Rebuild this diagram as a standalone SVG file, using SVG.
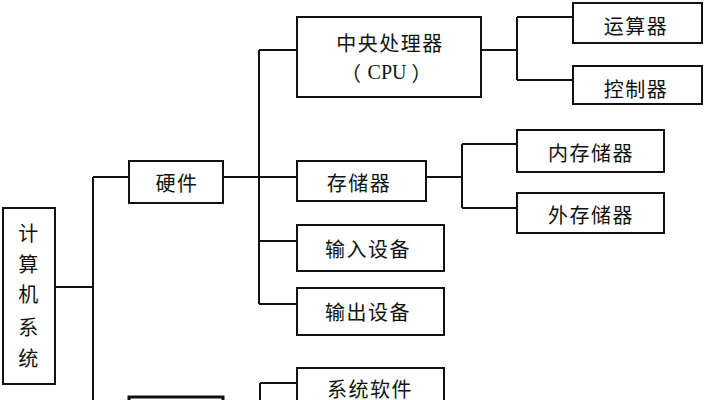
<svg xmlns="http://www.w3.org/2000/svg" width="716" height="400" viewBox="0 0 716 400">
<style>
.box{fill:#fff;stroke:#111;stroke-width:2}
.t{font-family:"Noto Sans CJK SC","Noto Sans",sans-serif;font-size:20px;fill:#111;text-anchor:middle;dominant-baseline:central;letter-spacing:1.5px}
.e{font-family:"Liberation Serif",serif;letter-spacing:0}
#connectors path{fill:none;stroke:#111;stroke-width:2}
</style>
<rect width="716" height="400" fill="#fff"/>
<g id="connectors">
<path d="M55,287H93M93,177V400M93,177H129"/>
<path d="M223,177H259M259,50V304M259,50H297M259,177H297M259,241H297M259,304H297"/>
<path d="M260,383V400M260,383H297"/>
<path d="M481,50H517M517,17V80M517,17H573M517,80H573"/>
<path d="M426,177H462M462,144V208M462,144H517M462,208H517"/>
</g>
<g id="n-system">
<rect class="box" x="3" y="208" width="52" height="176"/>
<text class="t" x="29" y="232">计</text>
<text class="t" x="29" y="263">算</text>
<text class="t" x="29" y="293">机</text>
<text class="t" x="29" y="326">系</text>
<text class="t" x="29" y="357">统</text>
</g>
<g id="n-hardware">
<rect class="box" x="129" y="161" width="94" height="42"/>
<text class="t" x="177" y="182">硬件</text>
</g>
<g id="n-software">
<rect x="129" y="397" width="94" height="20" fill="#fff" stroke="#111" stroke-width="3"/>
</g>
<g id="n-cpu">
<rect class="box" x="297" y="17" width="184" height="80"/>
<text class="t" x="390" y="42">中央处理器</text>
<text class="t" x="387" y="72">（<tspan class="e"> CPU </tspan>）</text>
</g>
<g id="n-alu">
<rect class="box" x="573" y="3" width="129" height="40"/>
<text class="t" x="636" y="25">运算器</text>
</g>
<g id="n-ctrl">
<rect class="box" x="573" y="66" width="129" height="38"/>
<text class="t" x="636" y="88">控制器</text>
</g>
<g id="n-storage">
<rect class="box" x="297" y="161" width="129" height="40"/>
<text class="t" x="359" y="182">存储器</text>
</g>
<g id="n-mem">
<rect class="box" x="517" y="130" width="147" height="42"/>
<text class="t" x="591" y="152">内存储器</text>
</g>
<g id="n-ext">
<rect class="box" x="517" y="193" width="147" height="40"/>
<text class="t" x="591" y="214">外存储器</text>
</g>
<g id="n-input">
<rect class="box" x="297" y="225" width="147" height="46"/>
<text class="t" x="368" y="248">输入设备</text>
</g>
<g id="n-output">
<rect class="box" x="297" y="288" width="147" height="47"/>
<text class="t" x="368" y="311">输出设备</text>
</g>
<g id="n-syssoft">
<rect class="box" x="297" y="368" width="147" height="46"/>
<text class="t" x="370" y="388">系统软件</text>
</g>
</svg>
